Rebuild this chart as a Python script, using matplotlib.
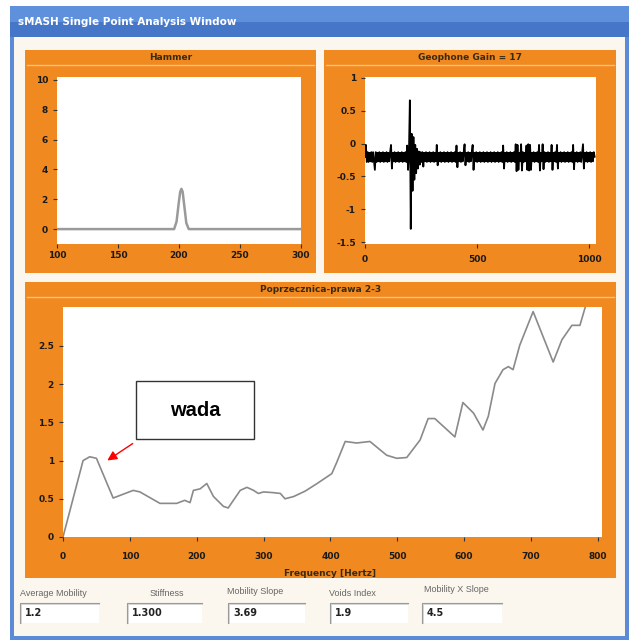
import numpy as np
import matplotlib
matplotlib.use("Agg")
import matplotlib.pyplot as plt
from matplotlib.patches import Rectangle

W, H = 629, 643

# Hammer impulse
hammer_t = [100, 196, 198, 200, 201, 202, 203, 204, 206, 208, 300]
hammer_v = [0, 0, 0.5, 1.9, 2.5, 2.7, 2.5, 1.8, 0.4, 0, 0]

# Geophone signal, one value every 4 samples
geo_step = 4
geo_v = [
    -0.20, -0.02, -0.28, -0.13, -0.28, -0.14, -0.27, -0.13, -0.28, -0.13, -0.27, -0.40, -0.13, -0.28, -0.14, -0.27,
    -0.13, -0.28, -0.14, -0.27, -0.13, -0.28, -0.14, -0.27, -0.13, -0.28, -0.14, -0.27, -0.13, -0.02, -0.38, -0.14,
    -0.27, -0.13, -0.28, -0.14, -0.27, -0.13, -0.28, -0.14, -0.27, -0.13, -0.28, -0.14, -0.27, -0.13, -0.28, -0.03,
    -0.40, -0.13, 0.66, -1.30, 0.15, -0.72, 0.10, -0.55, -0.02, -0.45, -0.08, -0.38, -0.12, -0.32, -0.13, -0.28,
    -0.13, -0.35, -0.14, -0.27, -0.13, -0.28, -0.14, -0.27, -0.13, -0.28, -0.14, -0.27, -0.13, -0.28, -0.14, -0.27,
    -0.02, -0.33, -0.14, -0.27, -0.13, -0.28, -0.14, -0.27, -0.13, -0.28, -0.14, -0.27, -0.13, -0.28, -0.14, -0.27,
    -0.13, -0.28, -0.14, -0.27, -0.13, -0.28, -0.03, -0.36, -0.14, -0.27, -0.13, -0.28, -0.14, -0.27, -0.13, -0.01,
    -0.33, -0.14, -0.27, -0.13, -0.28, -0.14, -0.27, -0.13, -0.02, -0.40, -0.14, -0.27, -0.13, -0.28, -0.14, -0.27,
    -0.13, -0.28, -0.14, -0.27, -0.13, -0.28, -0.14, -0.27, -0.13, -0.28, -0.14, -0.27, -0.13, -0.28, -0.14, -0.27,
    -0.13, -0.28, -0.14, -0.27, -0.13, -0.28, -0.14, -0.27, -0.13, -0.28, -0.03, -0.38, -0.14, -0.27, -0.13, -0.28,
    -0.14, -0.27, -0.13, -0.28, -0.14, -0.27, -0.13, -0.28, -0.01, -0.42, -0.02, -0.40, -0.14, -0.27, -0.01, -0.41,
    -0.13, -0.28, -0.14, -0.27, -0.03, -0.40, -0.01, -0.41, -0.02, -0.40, -0.14, -0.27, -0.13, -0.28, -0.14, -0.27,
    -0.13, -0.28, -0.02, -0.41, -0.14, -0.27, -0.01, -0.39, -0.13, -0.28, -0.14, -0.27, -0.13, -0.28, -0.14, -0.27,
    -0.02, -0.40, -0.14, -0.27, -0.13, -0.28, -0.02, -0.38, -0.14, -0.27, -0.13, -0.28, -0.14, -0.27, -0.13, -0.28,
    -0.14, -0.27, -0.13, -0.28, -0.14, -0.27, -0.13, -0.28, -0.02, -0.39, -0.14, -0.27, -0.13, -0.28, -0.14, -0.27,
    -0.13, -0.28, -0.14, -0.01, -0.38, -0.14, -0.27, -0.13, -0.28, -0.14, -0.27, -0.13, -0.28, -0.14, -0.27, -0.13,
    -0.20,
]

# Mobility spectrum
freq = [0, 30, 40, 50, 75, 105, 115, 145, 170, 182, 190, 195, 205, 215, 225,
        240, 247, 265, 275, 285, 292, 300, 315, 325, 332, 345, 362, 380, 402,
        409, 422, 439, 459, 484, 499, 514, 534, 546, 556, 586, 598, 614, 628,
        636, 646, 658, 666, 673, 683, 703, 733, 746, 761, 773, 781]
mobility = [0, 1.0, 1.05, 1.03, 0.51, 0.61, 0.59, 0.44, 0.44, 0.48, 0.45, 0.61,
            0.63, 0.70, 0.53, 0.40, 0.38, 0.61, 0.65, 0.61, 0.57, 0.59, 0.58,
            0.57, 0.50, 0.53, 0.60, 0.70, 0.83, 0.97, 1.25, 1.23, 1.25, 1.07,
            1.03, 1.04, 1.27, 1.55, 1.55, 1.31, 1.76, 1.62, 1.40, 1.58, 2.01,
            2.19, 2.23, 2.19, 2.51, 2.95, 2.29, 2.58, 2.77, 2.77, 3.01]

field_names = ["Average Mobility", "Stiffness", "Mobility Slope", "Voids Index", "Mobility X Slope"]
field_values = ["1.2", "1.300", "3.69", "1.9", "4.5"]

ORANGE = "#f0891f"
LIGHT = "#f8c17c"
CREAM = "#fbf7ee"

fig = plt.figure(figsize=(W / 100, H / 100), dpi=100)
fig.patch.set_facecolor("white")

bg = fig.add_axes([0, 0, 1, 1])
bg.set_xlim(0, W)
bg.set_ylim(H, 0)
bg.axis("off")


def box(x0, y0, x1, y1, **kw):
    bg.add_patch(Rectangle((x0, y0), x1 - x0, y1 - y0, **kw))


def chart(x0, y0, x1, y1):
    ax = fig.add_axes([x0 / W, 1 - y1 / H, (x1 - x0) / W, (y1 - y0) / H])
    ax.set_facecolor("white")
    for s in ax.spines.values():
        s.set_visible(False)
    ax.tick_params(direction="out", length=3, width=0.8, color="#333333",
                   labelsize=6.5, labelcolor="#1a1a1a")
    return ax


# window frame
box(10, 6, 629, 640, facecolor="#5b8ad6", edgecolor="none")
box(10, 6, 629, 22, facecolor="#5e90dc", edgecolor="none")
box(10, 22, 629, 37, facecolor="#4576c8", edgecolor="none")
box(14, 37, 625, 636, facecolor=CREAM, edgecolor="none")
bg.text(18, 22, "sMASH Single Point Analysis Window", color="white",
        fontsize=7.5, fontweight="bold", va="center", ha="left")

# orange panels
for (x0, y0, x1, y1, title) in [(25, 50, 316, 273, "Hammer"),
                                (324, 50, 616, 273, "Geophone Gain = 17"),
                                (25, 282, 616, 578, "Poprzecznica-prawa 2-3")]:
    box(x0, y0, x1, y1, facecolor=ORANGE, edgecolor="none")
    bg.plot([x0 + 2, x1 - 2], [y0 + 15, y0 + 15], color=LIGHT, lw=1)
    bg.text((x0 + x1) / 2, y0 + 7, title, fontsize=6.5, fontweight="bold",
            color="#3a2a10", ha="center", va="center")

bg.text(330, 573, "Frequency [Hertz]", fontsize=6.5, fontweight="bold",
        color="#3a2a10", ha="center", va="center")

# bottom fields
label_pos = [(20, 593), (150, 593), (227, 591), (329, 594), (424, 590)]
box_pos = [(20, 99), (127, 202), (228, 305), (330, 408), (422, 502)]
for name, val, (lx, ly), (bx0, bx1) in zip(field_names, field_values, label_pos, box_pos):
    bg.text(lx, ly, name, fontsize=6.5, color="#666666", ha="left", va="center",
            family="Liberation Sans")
    box(bx0, 603, bx1, 623, facecolor="white", edgecolor="none")
    bg.plot([bx0, bx0, bx1], [623, 603, 603], color="#9a9a9a", lw=0.8)
    bg.plot([bx0 + 1, bx0 + 1, bx1], [623, 604, 604], color="#cfcfcf", lw=0.6)
    bg.text(bx0 + 5, 613, val, fontsize=7, color="#222222", ha="left",
            va="center", fontweight="bold")

# Hammer chart
ax1 = chart(57, 77, 301, 244)
ax1.plot(hammer_t, hammer_v, color="#9a9a9a", lw=1.8)
ax1.set_xlim(100, 300)
ax1.set_ylim(-1.0, 10.2)
ax1.set_xticks([100, 150, 200, 250, 300], ["100", "150", "200", "250", "300"], fontweight="bold")
ax1.set_yticks([0, 2, 4, 6, 8, 10], ["0", "2", "4", "6", "8", "10"], fontweight="bold")
ax1.tick_params(axis="x", pad=2)

# Geophone chart
ax2 = chart(365, 77, 596, 244)
geo_t = np.arange(len(geo_v)) * geo_step
ax2.plot(geo_t, geo_v, color="black", lw=1.3)
ax2.set_xlim(0, 1030)
ax2.set_ylim(-1.53, 1.015)
ax2.set_xticks([0, 500, 1000], ["0", "500", "1000"], fontweight="bold")
ax2.set_yticks([1, 0.5, 0, -0.5, -1, -1.5], ["1", "0.5", "0", "-0.5", "-1", "-1.5"], fontweight="bold")
ax2.tick_params(axis="x", pad=5)

# Mobility chart
ax3 = chart(63, 307, 602, 537)
ax3.plot(freq, mobility, color="#8a8a8a", lw=1.2)
ax3.set_xlim(0, 806)
ax3.set_ylim(0, 3.01)
ax3.set_xticks(range(0, 900, 100), [str(v) for v in range(0, 900, 100)], fontweight="bold")
ax3.set_yticks([0, 0.5, 1, 1.5, 2, 2.5], ["0", "0.5", "1", "1.5", "2", "2.5"], fontweight="bold")
ax3.tick_params(axis="x", pad=8)

# annotation box "wada" drawn on top of the charts
ann = fig.add_axes([0, 0, 1, 1])
ann.set_xlim(0, W)
ann.set_ylim(H, 0)
ann.axis("off")
ann.add_patch(Rectangle((136, 381), 118, 58, facecolor="white", edgecolor="#333333", lw=1))
ann.text(195, 411, "wada", fontsize=14.5, fontweight="bold", family="Liberation Sans",
         ha="center", va="center", color="black")
ann.annotate("", xy=(105, 462), xytext=(135, 442),
             arrowprops=dict(arrowstyle="-|>", color="red", lw=1, mutation_scale=14))

fig.savefig("out.png", dpi=100)
